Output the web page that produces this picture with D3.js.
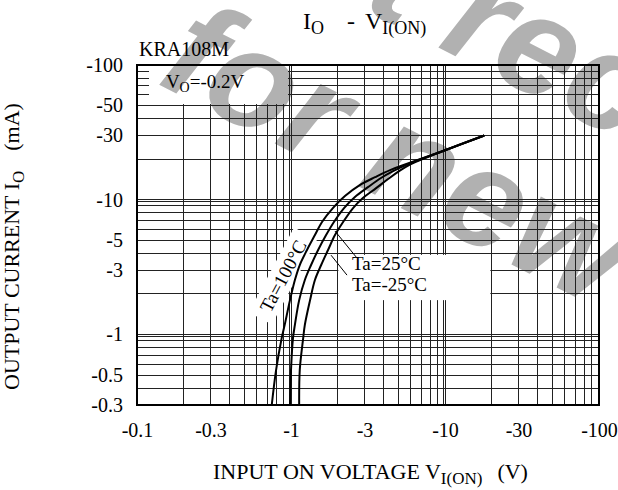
<!DOCTYPE html>
<html>
<head>
<meta charset="utf-8">
<script src="https://cdn.jsdelivr.net/npm/d3@7"></script>
<style>
  body { margin: 0; background: #fff; }
  svg { display: block; }
  text { font-family: "Liberation Serif", "Times New Roman", serif; fill: #000; }
</style>
</head>
<body>
<svg id="chart" width="618" height="490"></svg>
<script>
// Io - Vi(on), KRA108M. Values are magnitudes, labels print them negative.
const xTicks = [0.1, 0.3, 1, 3, 10, 30, 100];
const yTicks = [100, 50, 30, 10, 5, 3, 1, 0.5, 0.3];
const decades = [0.1, 1, 10];
const mantissas = [1, 2, 3, 4, 5, 6, 7, 8, 9];

// [V_I(ON) volts, I_O mA]
const ta100 = [[0.75, 0.3], [0.80, 0.545], [0.87, 0.94], [0.91, 1.18], [0.985, 1.8], [1.06, 2.54],
  [1.14, 3.28], [1.27, 4.24], [1.43, 5.47], [1.59, 6.84], [1.87, 8.68], [2.24, 10.65], [2.81, 12.9],
  [3.51, 14.7], [4.40, 16.6], [5.50, 18.25], [9.7, 23], [18, 30]];
const ta25 = [[0.985, 0.3], [1.0, 0.545], [1.03, 0.94], [1.06, 1.18], [1.13, 1.8], [1.23, 2.54],
  [1.35, 3.28], [1.50, 4.24], [1.69, 5.47], [1.90, 6.84], [2.21, 8.68], [2.60, 10.5], [3.16, 12.4],
  [3.84, 14.5], [4.60, 16.3], [5.67, 18.25], [9.7, 23], [18, 30]];
const taM25 = [[1.13, 0.3], [1.14, 0.545], [1.20, 0.94], [1.23, 1.18], [1.33, 1.8], [1.43, 2.54],
  [1.57, 3.28], [1.74, 4.24], [1.93, 5.47], [2.18, 6.84], [2.53, 8.68], [2.93, 10.3], [3.57, 12.2],
  [4.27, 14.25], [4.95, 16.1], [5.84, 18.1], [9.7, 23], [18, 30]];

const svg = d3.select("#chart");
const plot = { left: 137, right: 599, top: 65, bottom: 405 };

const x = d3.scaleLog().domain([0.1, 100]).range([plot.left, plot.right]);
const y = d3.scaleLog().domain([0.3, 100]).range([plot.bottom, plot.top]);

// grid values from the log decades
const gridVals = decades.flatMap(d => mantissas.map(m => +(m * d).toPrecision(3)));
const xGrid = gridVals.filter(v => v > 0.1 && v < 100);
const yGrid = gridVals.filter(v => v > 0.3 && v < 100);

// watermark (behind everything)
const wm = svg.append("g")
  .attr("transform", "translate(128,69) rotate(27)");
[["for new design", 30, 0], ["not recommended", 8, -160]].forEach(([t, tx, ty]) => {
  wm.append("text").attr("x", tx).attr("y", ty)
    .style("font-family", "'Liberation Sans', Arial, sans-serif")
    .style("font-weight", "bold")
    .style("font-style", "italic")
    .style("font-size", "140px")
    .style("fill", "#b1b1b1")
    .text(t);
});

// white label boxes cut the grid
const defs = svg.append("defs");
const mask = defs.append("mask").attr("id", "gridMask")
  .attr("maskUnits", "userSpaceOnUse")
  .attr("x", 0).attr("y", 0).attr("width", 618).attr("height", 490);
mask.append("rect").attr("width", 618).attr("height", 490).attr("fill", "#fff");
mask.append("rect")
  .attr("x", plot.left + 12).attr("y", plot.top + 1)
  .attr("width", x(1) - 3 - plot.left - 12).attr("height", y(50) - 1.5 - plot.top - 1)
  .attr("fill", "#000");
mask.append("rect")
  .attr("x", x(2) + 1).attr("y", y(3.9))
  .attr("width", x(20) - 1 - x(2) - 1).attr("height", y(1.8) - y(3.9))
  .attr("fill", "#000");
mask.append("rect")
  .attr("x", -48).attr("y", -13).attr("width", 96).attr("height", 26)
  .attr("transform", `translate(${x(0.887)},${y(2.72)}) rotate(-62)`)
  .attr("fill", "#000");

const grid = svg.append("g")
  .attr("mask", "url(#gridMask)")
  .attr("stroke", "#222")
  .attr("stroke-width", 1)
  .attr("shape-rendering", "crispEdges");

grid.selectAll(".gx").data(xGrid).enter().append("line")
  .attr("x1", d => x(d)).attr("x2", d => x(d))
  .attr("y1", plot.top).attr("y2", plot.bottom);
grid.selectAll(".gy").data(yGrid).enter().append("line")
  .attr("y1", d => y(d)).attr("y2", d => y(d))
  .attr("x1", plot.left).attr("x2", plot.right);

// decade lines are drawn doubled
grid.selectAll(".dx").data([1, 10]).enter().append("line")
  .attr("x1", d => x(d) - 2).attr("x2", d => x(d) - 2)
  .attr("y1", plot.top).attr("y2", plot.bottom);
grid.selectAll(".dy").data([1, 10]).enter().append("line")
  .attr("y1", d => y(d) + 2).attr("y2", d => y(d) + 2)
  .attr("x1", plot.left).attr("x2", plot.right);

// frame
svg.append("rect")
  .attr("x", plot.left).attr("y", plot.top)
  .attr("width", plot.right - plot.left).attr("height", plot.bottom - plot.top)
  .attr("fill", "none").attr("stroke", "#000").attr("stroke-width", 2);

// axes: labels only
const xAxis = svg.append("g")
  .attr("transform", `translate(0,${plot.bottom})`)
  .call(d3.axisBottom(x).tickValues(xTicks).tickFormat(d => "-" + d).tickSize(0).tickPadding(18));
const yAxis = svg.append("g")
  .attr("transform", `translate(${plot.left},0)`)
  .call(d3.axisLeft(y).tickValues(yTicks).tickFormat(d => "-" + d).tickSize(0).tickPadding(14));
[xAxis, yAxis].forEach(a => {
  a.select(".domain").remove();
  a.selectAll("text")
    .style("font-family", "'Liberation Serif', 'Times New Roman', serif")
    .style("font-size", "20px")
    .attr("fill", "#000");
});

// curves
const line = d3.line()
  .x(d => x(d[0]))
  .y(d => y(d[1]))
  .curve(d3.curveCatmullRom);

svg.selectAll(".curve").data([ta100, ta25, taM25]).enter().append("path")
  .attr("class", "curve")
  .attr("d", line)
  .attr("fill", "none")
  .attr("stroke", "#000")
  .attr("stroke-width", 2);

// leader lines to the 25 / -25 curves
const leaders = [[[1.93, 5.86], [2.68, 3.70]], [[1.82, 3.88], [2.31, 2.76]]];
svg.selectAll(".leader").data(leaders).enter().append("line")
  .attr("x1", d => x(d[0][0])).attr("y1", d => y(d[0][1]))
  .attr("x2", d => x(d[1][0])).attr("y2", d => y(d[1][1]))
  .attr("stroke", "#000").attr("stroke-width", 1);

// labels inside the plot
svg.append("text")
  .attr("x", x(2.49)).attr("y", y(3.0))
  .style("font-size", "19px").text("Ta=25°C");
svg.append("text")
  .attr("x", x(2.49)).attr("y", y(2.1))
  .style("font-size", "19px").text("Ta=-25°C");
svg.append("text")
  .attr("transform", `translate(${x(0.887)},${y(2.72)}) rotate(-62)`)
  .attr("text-anchor", "middle").attr("dy", "0.35em")
  .style("font-size", "19px").text("Ta=100°C");

const vo = svg.append("text")
  .attr("x", x(0.154)).attr("y", y(67))
  .style("font-size", "19px");
vo.append("tspan").text("V");
vo.append("tspan").attr("dy", 4).style("font-size", "14px").text("O");
vo.append("tspan").attr("dy", -4).text("=-0.2V");

// title and part number
const title = svg.append("text")
  .attr("x", 303).attr("y", 29)
  .style("font-size", "24px");
title.append("tspan").text("I");
title.append("tspan").attr("dy", 5).style("font-size", "18px").text("O");
title.append("tspan").attr("dy", -5).attr("dx", 23).text("-");
title.append("tspan").attr("dx", 10).text("V");
title.append("tspan").attr("dy", 5).style("font-size", "18px").text("I(ON)");

svg.append("text")
  .attr("x", 139).attr("y", 56)
  .style("font-size", "20px")
  .text("KRA108M");

// axis titles
const xl = svg.append("text")
  .attr("x", 213).attr("y", 479)
  .style("font-size", "22px");
xl.append("tspan").text("INPUT ON VOLTAGE V");
xl.append("tspan").attr("dy", 5).style("font-size", "17px").text("I(ON)");
xl.append("tspan").attr("dy", -5).attr("dx", 15).text("(V)");

const yl = svg.append("text")
  .attr("transform", "translate(19,390) rotate(-90)")
  .style("font-size", "22px");
yl.append("tspan").text("OUTPUT CURRENT I");
yl.append("tspan").attr("dy", 5).style("font-size", "17px").text("O");
yl.append("tspan").attr("dy", -5).attr("dx", 20).text("(mA)");
</script>
</body>
</html>
